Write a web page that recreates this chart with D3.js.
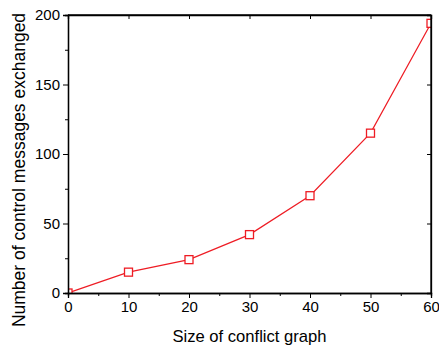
<!DOCTYPE html>
<html>
<head>
<meta charset="utf-8">
<script src="https://cdn.jsdelivr.net/npm/d3@7"></script>
<style>
  body { margin: 0; background: #fff; }
  svg { display: block; font-family: "Liberation Sans", Arial, sans-serif; }
</style>
</head>
<body>
<div id="chart"></div>
<script>
// data
const graphSize = [0, 10, 20, 30, 40, 50, 60];
const messages = [0, 15, 24, 42, 70, 115, 194];
const xTicks = [0, 10, 20, 30, 40, 50, 60];
const yTicks = [0, 50, 100, 150, 200];

const width = 439, height = 345;
const margin = { top: 15, right: 8, bottom: 52, left: 68 };
const red = '#ee1c24';

const svg = d3.select('#chart').append('svg')
  .attr('width', width)
  .attr('height', height);

const x = d3.scaleLinear().domain([0, 60]).range([margin.left, width - margin.right]);
const y = d3.scaleLinear().domain([0, 200]).range([height - margin.bottom, margin.top]);

const x0 = x(0), x1 = x(60), y0 = y(0), y1 = y(200);

// clip so the marker at the origin is cut by the frame
svg.append('clipPath').attr('id', 'plot')
  .append('rect')
  .attr('x', x0).attr('y', y1)
  .attr('width', x1 - x0).attr('height', y0 - y1);

const pts = graphSize.map((d, i) => ({ x: d, y: messages[i] }));

const g = svg.append('g').attr('clip-path', 'url(#plot)');

g.append('path')
  .datum(pts)
  .attr('fill', 'none')
  .attr('stroke', red)
  .attr('stroke-width', 1.2)
  .attr('d', d3.line().x(d => x(d.x)).y(d => y(d.y)));

g.selectAll('rect.mk')
  .data(pts)
  .enter()
  .append('rect')
  .attr('class', 'mk')
  .attr('x', d => x(d.x) - 4)
  .attr('y', d => y(d.y) - 4)
  .attr('width', 8)
  .attr('height', 8)
  .attr('fill', 'white')
  .attr('stroke', red)
  .attr('stroke-width', 1.3);

// axes: major + minor ticks outward
const minorX = d3.range(5, 60, 10);
const minorY = d3.range(25, 200, 50);

const xAxis = svg.append('g')
  .attr('transform', `translate(0,${y0})`)
  .call(d3.axisBottom(x).tickValues(xTicks).tickSize(5).tickPadding(3));
svg.append('g')
  .attr('transform', `translate(0,${y0})`)
  .call(d3.axisBottom(x).tickValues(minorX).tickSize(3).tickFormat(''));

const yAxis = svg.append('g')
  .attr('transform', `translate(${x0},0)`)
  .call(d3.axisLeft(y).tickValues(yTicks).tickSize(5).tickPadding(3));
svg.append('g')
  .attr('transform', `translate(${x0},0)`)
  .call(d3.axisLeft(y).tickValues(minorY).tickSize(3).tickFormat(''));

// top and right: ticks pointing inward
svg.append('g')
  .attr('transform', `translate(0,${y1})`)
  .call(d3.axisBottom(x).tickValues(xTicks).tickSize(4).tickFormat(''));
svg.append('g')
  .attr('transform', `translate(${x1},0)`)
  .call(d3.axisLeft(y).tickValues(yTicks).tickSize(4).tickFormat(''));

svg.selectAll('.domain').attr('stroke', '#000').attr('stroke-width', 1.3);
svg.selectAll('.tick line').attr('stroke', '#000').attr('stroke-width', 1);

xAxis.selectAll('text').style('font-size', '15px').attr('fill', '#000');
yAxis.selectAll('text').style('font-size', '15px').attr('fill', '#000');

// frame lines on top and right
svg.append('line').attr('x1', x0).attr('x2', x1).attr('y1', y1).attr('y2', y1)
  .attr('stroke', '#000').attr('stroke-width', 1.3);
svg.append('line').attr('x1', x1).attr('x2', x1).attr('y1', y1).attr('y2', y0)
  .attr('stroke', '#000').attr('stroke-width', 1.3);

// axis titles
svg.append('text')
  .attr('x', (x0 + x1) / 2)
  .attr('y', 342)
  .attr('text-anchor', 'middle')
  .style('font-size', '16.6px')
  .text('Size of conflict graph');

svg.append('text')
  .attr('transform', `translate(25,170) rotate(-90)`)
  .attr('text-anchor', 'middle')
  .style('font-size', '17.5px')
  .text('Number of control messages exchanged');
</script>
</body>
</html>
